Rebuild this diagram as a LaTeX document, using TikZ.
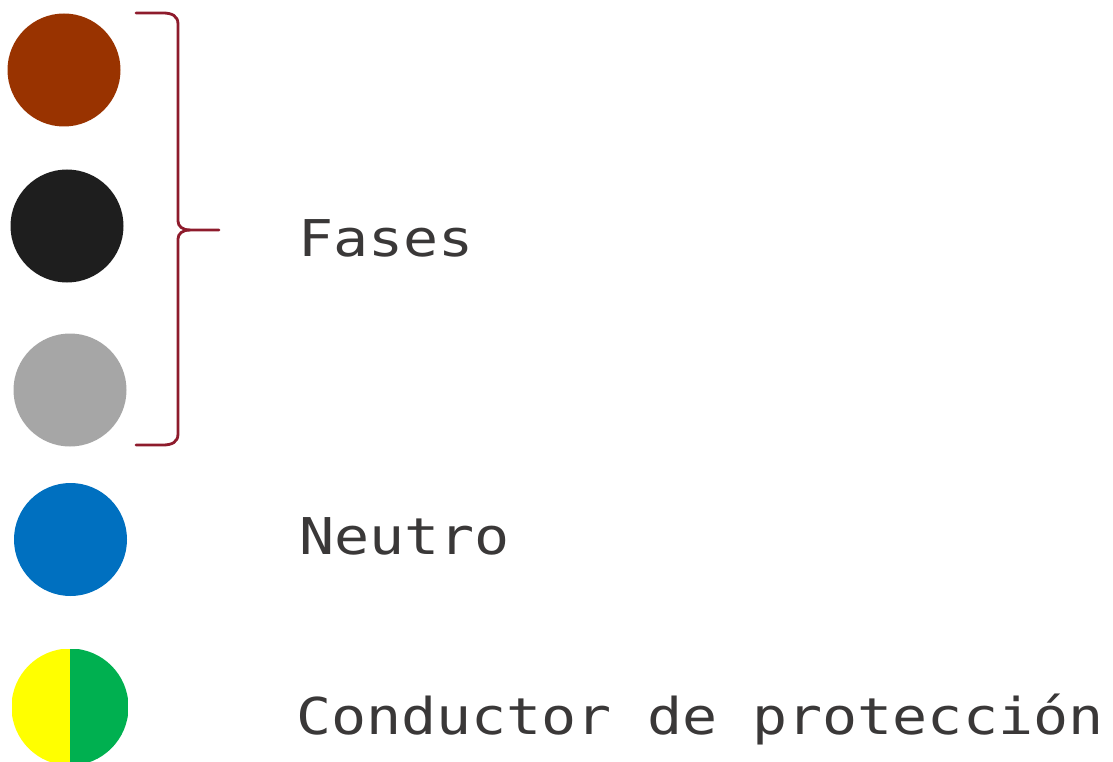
\documentclass[tikz,border=0pt]{standalone}
\usepackage{fontspec}
\newfontfamily\monof{DejaVu Sans Mono}[FakeStretch=1.15]
\definecolor{cbrown}{HTML}{993300}
\definecolor{cblack}{HTML}{1E1E1E}
\definecolor{cgrey}{HTML}{A6A6A6}
\definecolor{cblue}{HTML}{0070C0}
\definecolor{cyellow}{HTML}{FFFF00}
\definecolor{cgreen}{HTML}{00B050}
\definecolor{cbrace}{HTML}{8E1B2C}
\definecolor{ctext}{HTML}{3A3838}
\begin{document}
\begin{tikzpicture}[x=1pt,y=-1pt,
  dot/.style={circle,inner sep=0pt,minimum size=113pt,draw=none},
  lbl/.style={anchor=base west,inner sep=0pt,text=ctext,font=\monof\fontsize{50.7}{60}\selectfont},
  bracepath/.style={draw=cbrace,line width=2.8pt,line cap=round,line join=round}]
\useasboundingbox (0,0) rectangle (1113,762);
\node[dot,fill=cbrown] (brown) at (64,70) {};
\node[dot,fill=cblack] (black) at (67,226) {};
\node[dot,fill=cgrey] (grey) at (70,390) {};
\node[dot,fill=cblue] (blue) at (70.5,539.5) {};
\node[dot,minimum size=117pt,path picture={
  \fill[cyellow] (path picture bounding box.north west) rectangle (path picture bounding box.south);
  \fill[cgreen] (path picture bounding box.north) rectangle (path picture bounding box.south east);
}] (pe) at (70,707) {};
\coordinate (bt) at (136,13);
\coordinate (bb) at (136,445);
\coordinate (tip) at (219,230);
\draw[bracepath] (bt) -- (163,13) .. controls (172,13) and (178,16) .. (178,24)
  -- (178,221) .. controls (178,226) and (182,230) .. (190,230) -- (tip);
\draw[bracepath] (190,230) .. controls (182,230) and (178,234) .. (178,239)
  -- (178,434) .. controls (178,442) and (172,445) .. (163,445) -- (bb);
\node[lbl] (fases) at (298,256) {Fases};
\node[lbl] (neutro) at (299,554) {Neutro};
\node[lbl] (prot) at (296,734) {Conductor de protección};
\end{tikzpicture}
\end{document}
